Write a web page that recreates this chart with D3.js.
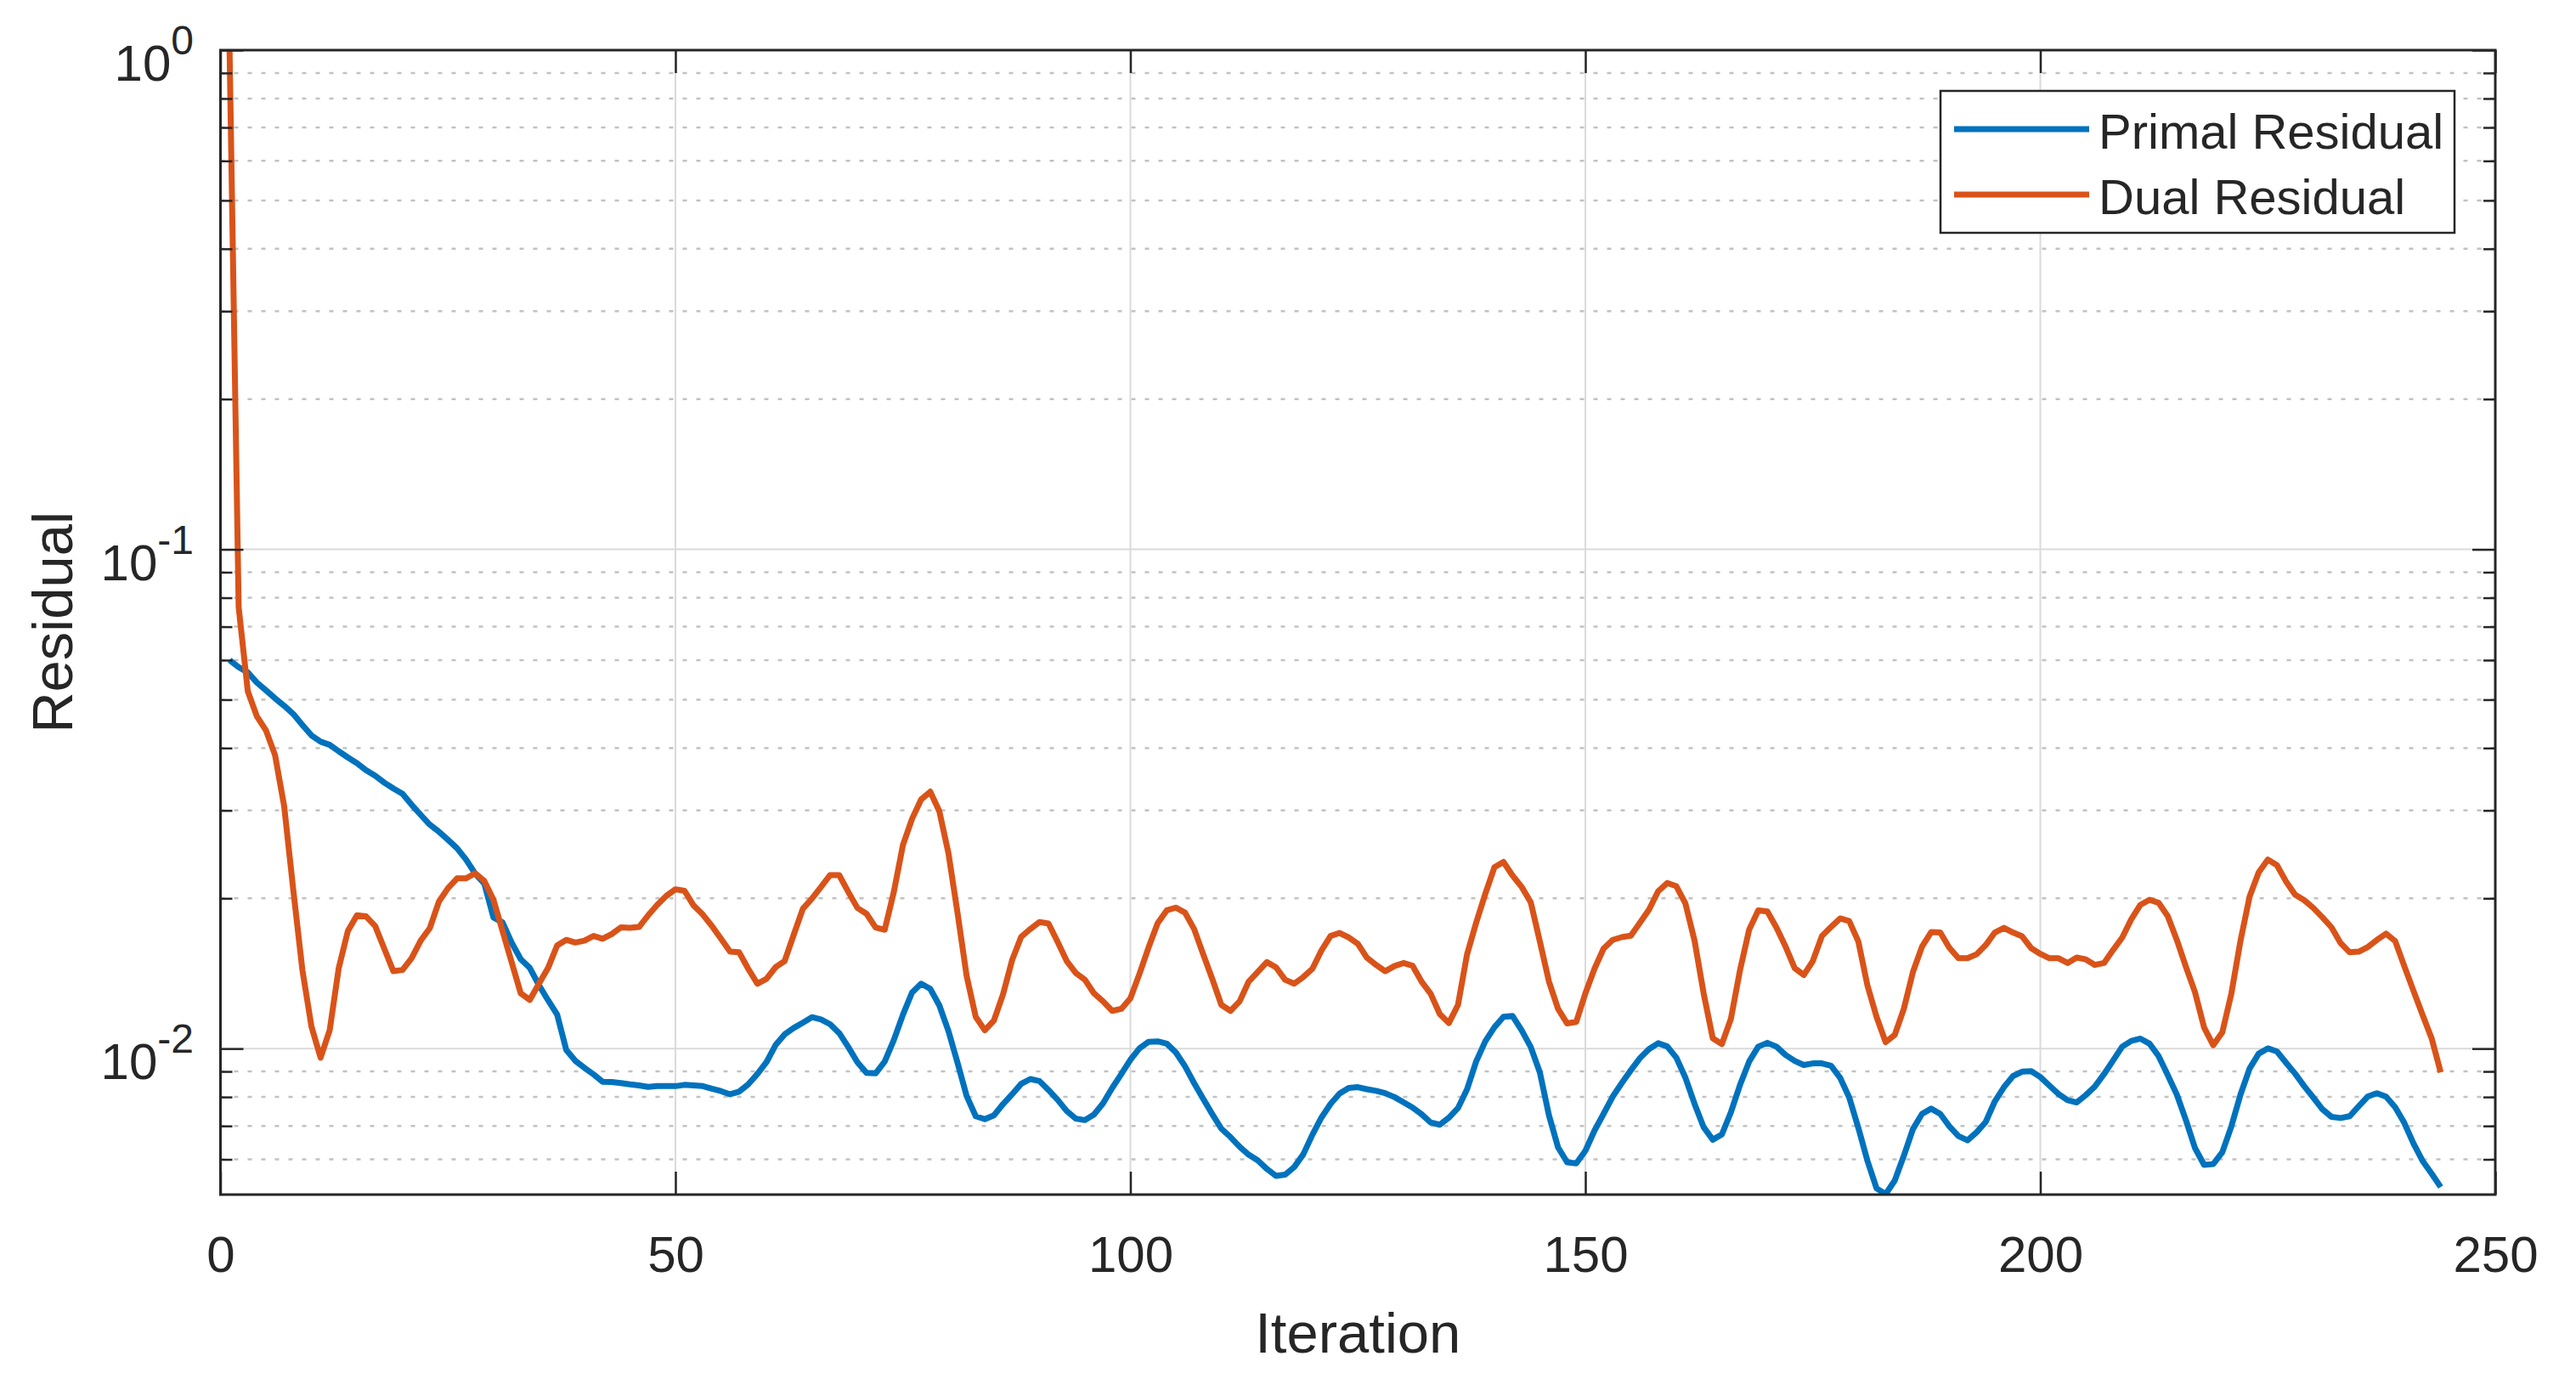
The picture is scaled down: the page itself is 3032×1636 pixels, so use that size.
<!DOCTYPE html>
<html><head><meta charset="utf-8">
<script src="https://cdn.jsdelivr.net/npm/d3@7"></script>
<style>
body{margin:0;background:#fff}
svg{display:block}
text{font-family:"Liberation Sans",Arial,Helvetica,sans-serif;fill:#262626}
</style>
</head><body>
<svg id="chart" width="3032" height="1636"></svg>
<script>
// ---------------- data ----------------
const seriesNames = ["Primal Residual", "Dual Residual"];
const xLabel = "Iteration";
const yLabel = "Residual";
const xTicks = [0, 50, 100, 150, 200, 250];
const yTickExponents = [0, -1, -2];
const xDomain = [0, 250];
const yDomain = [0.0051, 1];

const primalResidual = [
0.0600,0.0581,0.0567,0.0541,0.0522,0.0503,0.0486,0.0468,0.0445,0.0424,
0.0412,0.0406,0.0394,0.0383,0.0373,0.0361,0.0352,0.0341,0.0332,0.0324,
0.0308,0.0294,0.0281,0.0272,0.0262,0.0252,0.0239,0.0224,0.0214,0.0183,
0.0179,0.0163,0.0151,0.0145,0.0134,0.0125,0.0117,0.00994,0.00945,0.00915,
0.00888,0.00858,0.00857,0.00853,0.00848,0.00844,0.00838,0.00841,0.00841,0.00841,
0.00846,0.00844,0.00841,0.00831,0.00822,0.00810,0.00820,0.00848,0.00889,0.00939,
0.01016,0.01068,0.01100,0.01127,0.01156,0.01144,0.01119,0.01074,0.01007,0.00939,
0.00894,0.00892,0.00942,0.01040,0.01169,0.01295,0.01349,0.01318,0.01221,0.01085,
0.00937,0.00804,0.00732,0.00722,0.00735,0.00774,0.00810,0.00850,0.00869,0.00861,
0.00826,0.00790,0.00750,0.00724,0.00719,0.00738,0.00777,0.00834,0.00889,0.00950,
0.01001,0.01032,0.01034,0.01023,0.00982,0.00922,0.00853,0.00793,0.00739,0.00691,
0.00665,0.00636,0.00613,0.00597,0.00574,0.00556,0.00559,0.00579,0.00614,0.00672,
0.00728,0.00775,0.00813,0.00834,0.00837,0.00829,0.00823,0.00814,0.00800,0.00781,
0.00762,0.00739,0.00711,0.00704,0.00727,0.00760,0.00829,0.00942,0.01034,0.01103,
0.01158,0.01162,0.01088,0.01007,0.00896,0.00735,0.00634,0.00592,0.00589,0.00624,
0.00685,0.00740,0.00801,0.00853,0.00905,0.00957,0.00998,0.01025,0.01010,0.00959,
0.00874,0.00775,0.00696,0.00657,0.00673,0.00746,0.00846,0.00942,0.01009,0.01027,
0.01009,0.00971,0.00945,0.00927,0.00934,0.00934,0.00924,0.00874,0.00798,0.00694,
0.00596,0.00525,0.00511,0.00544,0.00610,0.00690,0.00740,0.00758,0.00740,0.00699,
0.00668,0.00655,0.00680,0.00713,0.00784,0.00837,0.00881,0.00899,0.00901,0.00877,
0.00843,0.00811,0.00788,0.00780,0.00807,0.00840,0.00889,0.00947,0.01009,0.01036,
0.01047,0.01023,0.00966,0.00885,0.00809,0.00719,0.00632,0.00585,0.00587,0.00620,
0.00699,0.00809,0.00912,0.00977,0.01001,0.00987,0.00937,0.00891,0.00841,0.00798,
0.00756,0.00730,0.00726,0.00732,0.00767,0.00802,0.00814,0.00801,0.00763,0.00710,
0.00646,0.00596,0.00562,0.00528
];

const dualResidual = [
1.0,0.0766,0.0520,0.0463,0.0434,0.0387,0.0306,0.0208,0.01438,0.01107,
0.00959,0.01088,0.0145,0.0172,0.0185,0.0184,0.0176,0.01586,0.01429,0.01437,
0.01517,0.01645,0.01742,0.01969,0.02096,0.02193,0.02193,0.02245,0.02166,0.01987,
0.01720,0.01490,0.01290,0.01252,0.01349,0.01450,0.01609,0.01651,0.01631,0.01645,
0.01681,0.01660,0.01696,0.01749,0.01746,0.01752,0.01849,0.01941,0.02023,0.02085,
0.02070,0.01934,0.01856,0.01761,0.01660,0.01564,0.01559,0.01445,0.01349,0.01379,
0.01455,0.01498,0.01690,0.01906,0.01997,0.02108,0.02226,0.02226,0.02059,0.01913,
0.01862,0.01748,0.01730,0.02059,0.02556,0.02884,0.03155,0.03270,0.02988,0.02465,
0.01872,0.01399,0.01158,0.01088,0.01138,0.01284,0.01504,0.01675,0.01736,0.01793,
0.01780,0.01636,0.01498,0.01417,0.01374,0.01290,0.01243,0.01190,0.01201,0.01261,
0.01412,0.01595,0.01783,0.01892,0.01916,0.01872,0.01736,0.01545,0.01379,0.01223,
0.01190,0.01243,0.01362,0.01424,0.01490,0.01455,0.01374,0.01349,0.01391,0.01445,
0.01573,0.01681,0.01705,0.01669,0.01621,0.01520,0.01471,0.01429,0.01463,0.01484,
0.01466,0.01362,0.01288,0.01173,0.01125,0.01223,0.01545,0.01787,0.02041,0.02307,
0.02365,0.02222,0.02108,0.01963,0.01639,0.01362,0.01201,0.01123,0.01131,0.01290,
0.01445,0.01586,0.01651,0.01672,0.01684,0.01787,0.01899,0.02066,0.02146,0.02115,
0.01952,0.01645,0.01290,0.01049,0.01021,0.01148,0.01437,0.01730,0.01892,0.01882,
0.01748,0.01601,0.01450,0.01404,0.01498,0.01681,0.01752,0.01823,0.01800,0.01639,
0.01338,0.01158,0.01030,0.01065,0.01201,0.01424,0.01601,0.01711,0.01708,0.01592,
0.01517,0.01517,0.01545,0.01612,0.01708,0.01745,0.01708,0.01678,0.01589,0.01548,
0.01517,0.01517,0.01484,0.01522,0.01509,0.01471,0.01484,0.01576,0.01669,0.01816,
0.01941,0.01987,0.01959,0.01842,0.01651,0.01458,0.01297,0.01102,0.01016,0.01078,
0.01290,0.01645,0.02016,0.02254,0.02391,0.02331,0.02162,0.02034,0.01983,0.01913,
0.01832,0.01749,0.01627,0.01559,0.01564,0.01598,0.01651,0.01699,0.01642,0.01463,
0.01307,0.01169,0.01049,0.00896
];

const seriesColors = ["#0072BD", "#D95319"];

// ---------------- layout ----------------
const L = 259.5, R = 2937, T = 59, B = 1406;
const ink = "#262626";
const svg = d3.select("#chart");
svg.append("rect").attr("width", 3032).attr("height", 1636).attr("fill", "#fff");

const x = d3.scaleLinear().domain(xDomain).range([L, R]);
const y = d3.scaleLog().domain(yDomain).range([B, T]);

const yMajor = yTickExponents.map(e => Math.pow(10, e));
const yMinor = [];
for (let e = -3; e <= 0; e++) {
  for (let m = 2; m <= 9; m++) {
    const v = m * Math.pow(10, e);
    if (v > yDomain[0] && v < yDomain[1]) yMinor.push(v);
  }
}

svg.append("rect").attr("x", L).attr("y", T).attr("width", R - L).attr("height", B - T).attr("fill", "#fff");

// grid
const grid = svg.append("g");
grid.selectAll(".ymin").data(yMinor).enter().append("line")
  .attr("x1", L).attr("x2", R).attr("y1", d => y(d)).attr("y2", d => y(d))
  .attr("stroke", "#c2c2c2").attr("stroke-width", 2.5).attr("stroke-dasharray", "5,11");
grid.selectAll(".ymaj").data(yMajor.filter(v => v < yDomain[1])).enter().append("line")
  .attr("x1", L).attr("x2", R).attr("y1", d => y(d)).attr("y2", d => y(d))
  .attr("stroke", "#dadada").attr("stroke-width", 2);
grid.selectAll(".xmaj").data(xTicks.filter(v => v > xDomain[0] && v < xDomain[1])).enter().append("line")
  .attr("y1", T).attr("y2", B).attr("x1", d => x(d)).attr("x2", d => x(d))
  .attr("stroke", "#dadada").attr("stroke-width", 2);

svg.append("clipPath").attr("id", "clip").append("rect")
  .attr("x", L).attr("y", T).attr("width", R - L).attr("height", B - T);

// lines
const line = d3.line().x(d => x(d[0])).y(d => y(d[1]));
const seriesData = [primalResidual, dualResidual];
const gLines = svg.append("g").attr("clip-path", "url(#clip)");
seriesData.forEach((arr, k) => {
  gLines.append("path")
    .datum(arr.map((v, i) => [i + 1, v]))
    .attr("d", line)
    .attr("fill", "none")
    .attr("stroke", seriesColors[k])
    .attr("stroke-width", 7)
    .attr("stroke-linejoin", "round");
});

function styleAxis(g) {
  g.select(".domain").remove();
  g.selectAll(".tick line").attr("stroke", ink).attr("stroke-width", 2.5);
}
const fontTick = 60;

const xb = svg.append("g").attr("transform", `translate(0,${B})`)
  .call(d3.axisBottom(x).tickValues(xTicks).tickSize(-27).tickPadding(0).tickFormat(d3.format("d")));
styleAxis(xb);
xb.selectAll(".tick text").attr("font-size", fontTick).attr("fill", ink)
  .attr("y", 91).attr("dy", null);

const xt = svg.append("g").attr("transform", `translate(0,${T})`)
  .call(d3.axisTop(x).tickValues(xTicks).tickSize(-27).tickFormat(""));
styleAxis(xt);

const yl = svg.append("g").attr("transform", `translate(${L},0)`)
  .call(d3.axisLeft(y).tickValues(yMajor).tickSize(-27).tickFormat(""));
styleAxis(yl);
const ylm = svg.append("g").attr("transform", `translate(${L},0)`)
  .call(d3.axisLeft(y).tickValues(yMinor).tickSize(-14).tickFormat(""));
styleAxis(ylm);
const yr = svg.append("g").attr("transform", `translate(${R},0)`)
  .call(d3.axisRight(y).tickValues(yMajor).tickSize(-27).tickFormat(""));
styleAxis(yr);
const yrm = svg.append("g").attr("transform", `translate(${R},0)`)
  .call(d3.axisRight(y).tickValues(yMinor).tickSize(-14).tickFormat(""));
styleAxis(yrm);

const ylab = svg.append("g");
yTickExponents.forEach(e => {
  const yy = y(Math.pow(10, e));
  const t = ylab.append("text").attr("x", 228).attr("y", yy + 36)
    .attr("text-anchor", "end").attr("font-size", fontTick);
  t.append("tspan").text("10");
  t.append("tspan").attr("font-size", 48).attr("dy", -31).text(String(e));
});

svg.append("rect").attr("x", L).attr("y", T).attr("width", R - L).attr("height", B - T)
  .attr("fill", "none").attr("stroke", ink).attr("stroke-width", 3);

svg.append("text").attr("x", (L + R) / 2).attr("y", 1592).attr("text-anchor", "middle")
  .attr("font-size", 67).text(xLabel);
svg.append("text").attr("transform", `translate(85,${(T + B) / 2}) rotate(-90)`)
  .attr("text-anchor", "middle").attr("font-size", 67).text(yLabel);

const lg = svg.append("g");
lg.append("rect").attr("x", 2284).attr("y", 107).attr("width", 605).attr("height", 167)
  .attr("fill", "#fff").attr("stroke", ink).attr("stroke-width", 2.5);
seriesNames.forEach((name, k) => {
  const cy = 152 + k * 77;
  lg.append("line").attr("x1", 2300).attr("x2", 2459).attr("y1", cy).attr("y2", cy)
    .attr("stroke", seriesColors[k]).attr("stroke-width", 7);
  lg.append("text").attr("x", 2470).attr("y", cy + 23).attr("font-size", 58).text(name);
});
</script>
</body></html>
